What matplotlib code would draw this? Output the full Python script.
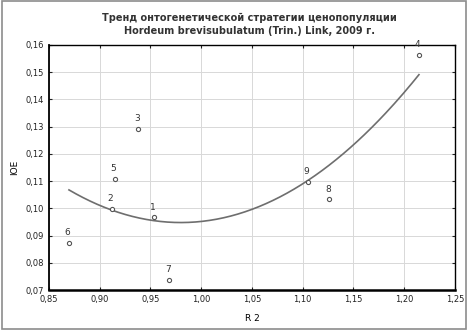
import numpy as np
import matplotlib
matplotlib.use("Agg")
import matplotlib.pyplot as plt
from matplotlib.patches import Rectangle

# points (R2 vs index)
labels = ["1", "2", "3", "4", "5", "6", "7", "8", "9"]
r2 = [0.9537, 0.912, 0.938, 1.2145, 0.915, 0.8697, 0.9685, 1.1262, 1.1049]
ioe = [0.0967, 0.0998, 0.1292, 0.1564, 0.1108, 0.0874, 0.0737, 0.1033, 0.1098]

x_ticks = [0.85, 0.90, 0.95, 1.00, 1.05, 1.10, 1.15, 1.20, 1.25]
y_ticks = [0.07, 0.08, 0.09, 0.10, 0.11, 0.12, 0.13, 0.14, 0.15, 0.16]


def comma(v):
    return ("%.2f" % v).replace(".", ",")


fig = plt.figure(figsize=(4.71, 3.30), dpi=100)
fig.patches.append(Rectangle((0.004, 0.004), 0.986, 0.992, transform=fig.transFigure,
                             fill=False, edgecolor="#8c8c8c", linewidth=1.2))
ax = fig.add_axes([0.104, 0.121, 0.862, 0.743])

x = np.array(r2)
y = np.array(ioe)
coef = np.polyfit(x, y, 2)
xs = np.linspace(x.min(), x.max(), 200)
ax.plot(xs, np.polyval(coef, xs), color="#6e6e6e", lw=1.2, zorder=2)

ax.scatter(x, y, s=9, facecolors="white", edgecolors="#555555", linewidths=0.8, zorder=3)
for lab, xi, yi in zip(labels, r2, ioe):
    ax.annotate(lab, (xi, yi), xytext=(-1, 4), textcoords="offset points",
                fontsize=6.5, color="#333333", ha="center", va="bottom")

ax.set_xlim(0.85, 1.25)
ax.set_ylim(0.07, 0.16)
ax.set_xticks(x_ticks)
ax.set_yticks(y_ticks)
ax.set_xticklabels([comma(v) for v in x_ticks])
ax.set_yticklabels([comma(v) for v in y_ticks])
ax.tick_params(labelsize=6, colors="#222222", length=2, direction="in",
               top=True, right=True)
ax.grid(True, color="#d8d8d8", lw=0.7)
ax.set_axisbelow(True)
for s in ax.spines.values():
    s.set_color("black")
    s.set_linewidth(1.0)
ax.spines["bottom"].set_linewidth(1.8)
ax.spines["left"].set_linewidth(1.3)

ax.set_xlabel("R 2", fontsize=6.5, labelpad=7)
ax.set_ylabel("IOE", fontsize=6.5, labelpad=5)
fig.text(0.53, 0.945, "Тренд онтогенетической стратегии ценопопуляции",
         ha="center", va="center", fontsize=7, fontweight="bold", color="#333333")
fig.text(0.53, 0.905, "Hordeum brevisubulatum (Trin.) Link, 2009 г.",
         ha="center", va="center", fontsize=7, fontweight="bold", color="#333333")

fig.savefig("out.png", dpi=100)
